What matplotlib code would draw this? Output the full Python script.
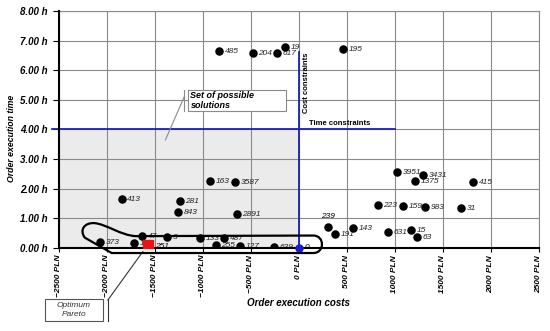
import matplotlib
matplotlib.use("Agg")
import matplotlib.pyplot as plt
from matplotlib.path import Path
from matplotlib.patches import PathPatch, Rectangle
import numpy as np

plt.rcParams['font.family'] = ['Liberation Sans', 'DejaVu Sans']

# solutions: cost (PLN), time (h), label
costs = [-833, -479, -229, -146, 458,
         -1844, -1240, -1260, -927, -667, -646,
         -2073, -1719, -1635, -1375, -1031, -781, -865, -615, -260,
         1021, 1292, 1208, 1813, 823, 1083, 1313, 1688,
         302, 375, 563, 927, 1167, 1229]
times = [6.65, 6.59, 6.59, 6.79, 6.72,
         1.66, 1.58, 1.22, 2.26, 2.23, 1.15,
         0.20, 0.17, 0.40, 0.37, 0.34, 0.34, 0.10, 0.07, 0.04,
         2.57, 2.47, 2.26, 2.23, 1.45, 1.42, 1.38, 1.35,
         0.71, 0.47, 0.68, 0.54, 0.61, 0.37]
labels = ["485", "204", "617", "19", "195",
          "413", "281", "843", "163", "3587", "2891",
          "373", "1", "47", "3", "133", "487", "255", "127", "639",
          "3951", "3431", "1375", "415", "223", "159", "983", "31",
          "239", "191", "143", "631", "15", "63"]

pareto_cost, pareto_time, pareto_label = -1573, 0.10, "251"
origin_cost, origin_time, origin_label = 0, 0.0, "0"

cost_limit = 0
time_limit = 4.0
xticks = [-2500, -2000, -1500, -1000, -500, 0, 500, 1000, 1500, 2000, 2500]
yticks = [0, 1, 2, 3, 4, 5, 6, 7, 8]

# hand-drawn lasso around the pareto front (data coords)
lasso_verts = [(-1700, 0.40), (150, 0.42),
               (270, 0.42), (270, -0.17), (150, -0.17),
               (-1950, -0.17), (-2230, 0.35),
               (-2290, 0.62), (-2230, 0.86), (-2130, 0.84),
               (-2000, 0.80), (-1860, 0.43), (-1700, 0.40),
               (-1700, 0.40)]
lasso_codes = [Path.MOVETO, Path.LINETO,
               Path.CURVE4, Path.CURVE4, Path.CURVE4,
               Path.LINETO, Path.LINETO,
               Path.CURVE4, Path.CURVE4, Path.CURVE4,
               Path.CURVE4, Path.CURVE4, Path.CURVE4,
               Path.CLOSEPOLY]

fig = plt.figure(figsize=(5.5, 3.31), dpi=100)
ax = fig.add_axes([0.107, 0.2508, 0.873, 0.716])
ax.set_xlim(-2500, 2500)
ax.set_ylim(0, 8)

ax.add_patch(Rectangle((-2500, 0), 2500, time_limit, facecolor="#ebebeb",
                       edgecolor="none", zorder=0))
ax.set_xticks(xticks)
ax.set_yticks(yticks)
ax.grid(True, color="#8a8a8a", linewidth=0.8, zorder=1)
ax.set_axisbelow(True)

for s in ["top", "right"]:
    ax.spines[s].set_color("#8a8a8a")
    ax.spines[s].set_linewidth(0.8)
for s in ["left", "bottom"]:
    ax.spines[s].set_color("black")
    ax.spines[s].set_linewidth(1.5)
    ax.spines[s].set_zorder(3)

# constraints
ax.plot([-2570, 1000], [time_limit, time_limit], color="#1c1cc8", lw=1.3,
        zorder=2, clip_on=False)
ax.plot([cost_limit, cost_limit], [0, 6.6], color="#1c1cc8", lw=1.3, zorder=2)
ax.text(45, 5.57, "Cost constraints", rotation=90, fontsize=5.5,
        fontweight="bold", ha="left", va="center")
ax.text(100, 4.08, "Time constraints", fontsize=5.5, fontweight="bold",
        ha="left", va="bottom")

ax.scatter(costs, times, s=26, color="black", zorder=4)
for x, y, t in zip(costs, times, labels):
    if t == "239":
        ax.annotate(t, (x, y), xytext=(0, 5), textcoords="offset points",
                    fontsize=6, style="italic", ha="center", va="bottom")
    else:
        ax.annotate(t, (x, y), xytext=(4, -0.5), textcoords="offset points",
                    fontsize=6, style="italic", ha="left", va="center",
                    color="#222222")

ax.scatter([pareto_cost], [pareto_time], s=55, marker="s", color="#ee1111",
           zorder=5)
ax.annotate(pareto_label, (pareto_cost, pareto_time), xytext=(5, -1),
            textcoords="offset points", fontsize=6, style="italic",
            ha="left", va="center")
ax.scatter([origin_cost], [origin_time], s=26, color="#1c1cc8", zorder=5,
           clip_on=False)
ax.annotate(origin_label, (origin_cost, origin_time), xytext=(4, 0),
            textcoords="offset points", fontsize=6, style="italic",
            ha="left", va="center")

ax.add_patch(PathPatch(Path(lasso_verts, lasso_codes), facecolor="none",
                       edgecolor="black", lw=1.6, zorder=6, clip_on=False))

# callout: set of possible solutions
ax.add_patch(Rectangle((-1156, 4.63), 1021, 0.71, facecolor="white",
                       edgecolor="#8a8a8a", lw=0.8, zorder=3))
ax.text(-1130, 4.98, "Set of possible\nsolutions", fontsize=6.5,
        fontweight="bold", style="italic", ha="left", va="center", zorder=4,
        linespacing=1.2)
ax.plot([-1195, -1195], [4.63, 5.34], color="#8a8a8a", lw=0.8, zorder=3)
ax.plot([-1195, -1390], [5.1, 3.65], color="#8a8a8a", lw=0.8, zorder=3)

# callout: optimum pareto
ax.add_patch(Rectangle((-2646, -2.47), 604, 0.75, facecolor="white",
                       edgecolor="#555555", lw=0.8, zorder=3, clip_on=False))
ax.text(-2344, -2.09, "Optimum\nPareto", fontsize=6, style="italic",
        ha="center", va="center", color="#333333", linespacing=1.3)
ax.plot([-1990, -1990], [-1.72, -2.47], color="#333333", lw=0.8, clip_on=False)
ax.plot([-1990, -1625], [-1.76, -0.12], color="#333333", lw=0.8, clip_on=False)

ax.set_xticklabels(["\u22122500 PLN", "\u22122000 PLN", "\u22121500 PLN",
                    "\u22121000 PLN", "\u2212500 PLN", "0 PLN", "500 PLN",
                    "1000 PLN", "1500 PLN", "2000 PLN", "2500 PLN"],
                   rotation=90, fontsize=6, fontweight="bold", style="italic")
ax.set_yticklabels(["%.2f h" % v for v in yticks], fontsize=7,
                   fontweight="bold", style="italic")
ax.tick_params(axis="y", length=4, width=0.8, pad=4)
ax.tick_params(axis="x", length=3, width=0.8, pad=2)

fig.text(0.542, 0.085, "Order execution costs", fontsize=7,
         fontweight="bold", style="italic", ha="center", va="center")
fig.text(0.021, 0.583, "Order execution time", fontsize=6.3,
         fontweight="bold", style="italic", ha="center", va="center",
         rotation=90)

fig.savefig("out.png", dpi=100)
